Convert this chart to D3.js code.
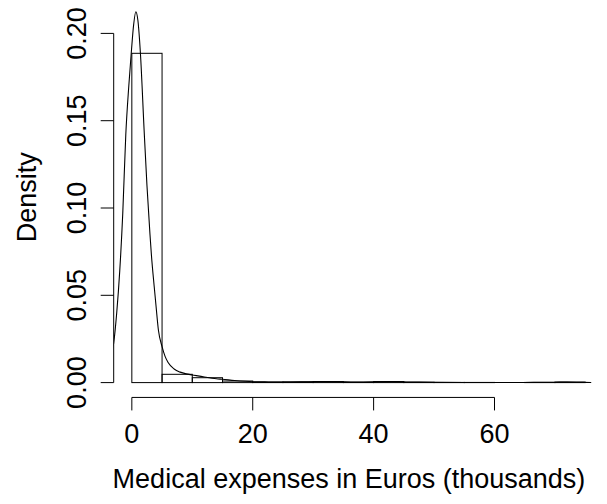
<!DOCTYPE html>
<html><head><meta charset="utf-8">
<script src="https://cdn.jsdelivr.net/npm/d3@7/dist/d3.min.js"></script>
<style>html,body{margin:0;padding:0;background:#fff;} svg text{font-family:"Liberation Sans",Arial,Helvetica,sans-serif;}</style>
</head><body>
<script>
// Histogram (density scale), breaks every 5 thousand euros
const breaks = [0,5,10,15,20,25,30,35,40,45,50,55,60,65,70,75];
const barDensity = [0.1886,0.00475,0.0028,0.0009,0.0003,0.0004,0.0006,0.0002,0.0006,0.0002,0.0001,0.0001,0.0,0.0001,0.0003];
// Kernel density estimate
const densX = [-3.3,-3.0,-2.5,-2.0,-1.5,-1.0,-0.5,-0.1,0.3,0.66,1.0,1.42,2.03,2.5,3.0,3.24,3.7,4.0,4.4,5.0,5.5,6.0,7.0,8.0,9.0,10,12,14,15,17,20,22,25,28,31,34,37,40,43,46,50,55,60,65,70,72,74,76];
const densY = [0.017,0.0227,0.040,0.064,0.097,0.142,0.170,0.1886,0.205,0.2124,0.2075,0.1886,0.1447,0.113,0.085,0.0731,0.055,0.044,0.030,0.0206,0.0150,0.0115,0.0078,0.0060,0.0050,0.0044,0.0032,0.0022,0.0019,0.0012,0.0005,0.0004,0.0003,0.0004,0.0006,0.0005,0.0003,0.0004,0.0006,0.0003,0.0002,0.0001,0.00005,0.0001,0.0002,0.0003,0.0002,0.00005];
const xTicks = [0,20,40,60];
const yTicks = [0.00,0.05,0.10,0.15,0.20];
const xLabel = "Medical expenses in Euros (thousands)";
const yLabel = "Density";

const W = 607, H = 504;
const xlim = [0,75], ylim = [0, d3.max(densY)];
const ext = (l)=>{const r=l[1]-l[0]; return [l[0]-0.04*r, l[1]+0.04*r];};
const xu = ext(xlim), yu = ext(ylim);
const plot = {left:113.7, right:603.3};
const x = d3.scaleLinear().domain(xu).range([plot.left, plot.right]);
const yPerUnit = 1746;
const y = d3.scaleLinear().domain([0,0.2]).range([382.6, 382.6-0.2*yPerUnit]);

const svg = d3.select("body").append("svg").attr("width",W).attr("height",H);
svg.append("defs").append("clipPath").attr("id","clip").append("rect")
  .attr("x",x(xu[0])).attr("y",y(yu[1])).attr("width",x(xu[1])-x(xu[0])).attr("height",y(yu[0])-y(yu[1]));

// bars
const bins = barDensity.map((d,i)=>({x0:breaks[i],x1:breaks[i+1],d}));
svg.append("g").selectAll("rect").data(bins).join("rect")
  .attr("x",b=>x(b.x0)).attr("width",b=>x(b.x1)-x(b.x0))
  .attr("y",b=>y(b.d)).attr("height",b=>y(0)-y(b.d))
  .attr("fill","none").attr("stroke","#000").attr("stroke-width",1);

// density line
const pts = densX.map((v,i)=>[v,densY[i]]);
svg.append("path").datum(pts).attr("clip-path","url(#clip)")
  .attr("d",d3.line().x(p=>x(p[0])).y(p=>y(p[1])).curve(d3.curveMonotoneX))
  .attr("fill","none").attr("stroke","#000").attr("stroke-width",1.1);

const fs = 27, tickLen = 13;
// x axis
const ax = svg.append("g");
const xa = y(yu[0]);
ax.append("line").attr("x1",x(xTicks[0])).attr("x2",x(xTicks[xTicks.length-1])).attr("y1",xa).attr("y2",xa).attr("stroke","#000");
ax.selectAll(".xt").data(xTicks).join("line").attr("x1",d=>x(d)).attr("x2",d=>x(d)).attr("y1",xa).attr("y2",xa+tickLen).attr("stroke","#000");
ax.selectAll(".xl").data(xTicks).join("text").attr("x",d=>x(d)).attr("y",xa+45.5).attr("text-anchor","middle").attr("font-size",fs).text(d=>d);
svg.append("text").attr("x",349).attr("y",xa+91).attr("text-anchor","middle").attr("font-size",fs).text(xLabel);
// y axis
const ya = x(xu[0]);
ax.append("line").attr("x1",ya).attr("x2",ya).attr("y1",y(yTicks[0])).attr("y2",y(yTicks[yTicks.length-1])).attr("stroke","#000");
ax.selectAll(".yt").data(yTicks).join("line").attr("x1",ya-tickLen).attr("x2",ya).attr("y1",d=>y(d)).attr("y2",d=>y(d)).attr("stroke","#000");
ax.selectAll(".yl").data(yTicks).join("text").attr("transform",d=>`translate(${ya-27.5},${y(d)}) rotate(-90)`).attr("text-anchor","middle").attr("font-size",fs).text(d=>d.toFixed(2));
svg.append("text").attr("transform",`translate(36,${(y(yu[0])+y(yu[1]))/2}) rotate(-90)`).attr("text-anchor","middle").attr("font-size",fs).text(yLabel);
</script>
</body></html>
